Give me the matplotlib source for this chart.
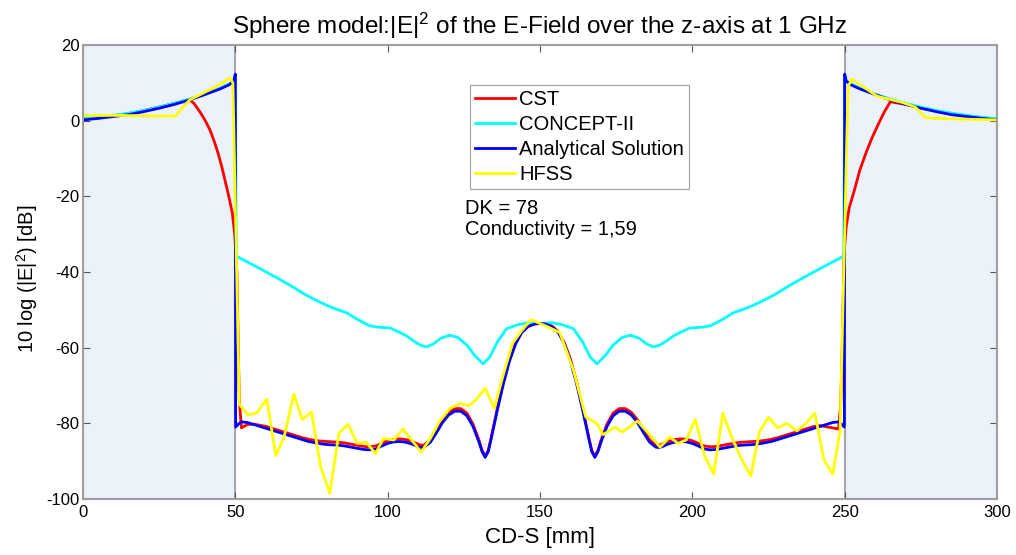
import numpy as np
import matplotlib
matplotlib.use("Agg")
import matplotlib.pyplot as plt

plt.rcParams['font.family'] = ['Liberation Sans', 'DejaVu Sans']
plt.rcParams['mathtext.default'] = 'regular'
plt.rcParams['axes.unicode_minus'] = False

# --- CST ---
cst_x = [0, 5, 10, 15, 20, 25, 30, 35, 36.5, 38.4, 40, 41.7, 43, 44.3, 45.5, 46.6, 47.8, 49, 49.8,
         50.5, 51.3, 52, 54, 56, 58, 60, 62, 64, 66, 68, 70, 72, 74, 76, 78, 80, 82, 84, 86, 88, 90,
         92, 94, 96, 98, 100, 102, 104, 106, 108, 110, 111, 112, 114, 116, 118, 120, 122, 124, 126,
         128, 130, 131, 132, 133, 134, 136, 138, 140, 142, 144, 146, 148, 150,
         152, 154, 156, 158, 160, 162, 164, 166, 167, 168, 169, 170, 172, 174, 176, 178, 180, 182,
         184, 186, 188, 189, 190, 192, 194, 196, 198, 200, 202, 204, 206, 208, 210, 212, 214, 216,
         218, 220, 222, 224, 226, 228, 230, 232, 234, 236, 238, 240, 242, 244, 246, 248, 248.7,
         249.2, 249.8, 250.5, 251.5, 253.4, 255, 257, 259, 261, 263, 265, 270, 275, 280, 285, 290,
         295, 300]
cst_y = [0.4, 0.8, 1.3, 1.9, 2.7, 3.6, 4.6, 5.6, 4.5, 2.3, 0.2, -2.5, -5.3, -8.5, -12.0, -15.7,
         -19.8, -24.4, -30.0,
         -40.0, -74.0, -81.2, -80.3, -80.2, -80.5, -80.8, -81.3, -81.8, -82.3, -82.8, -83.3, -83.8,
         -84.2, -84.5, -84.7, -84.8, -84.9, -85.0, -85.2, -85.5, -85.8, -86.1, -86.2, -86.0, -85.3,
         -84.6, -84.2, -84.1, -84.3, -84.8, -85.5, -85.8, -85.7, -84.4, -81.8, -79.1, -77.1, -76.1,
         -76.1, -77.3, -80.2, -84.5, -87.2, -88.6, -87.2, -83.6, -76.0, -69.0, -63.0, -58.7, -55.8,
         -54.3, -53.7, -53.6,
         -53.7, -54.3, -55.8, -58.7, -63.0, -69.0, -76.0, -83.6, -87.2, -88.6, -87.2, -84.5, -80.2,
         -77.3, -76.1, -76.1, -77.1, -79.1, -81.8, -84.4, -85.7, -85.8, -85.5, -84.8, -84.3, -84.1,
         -84.2, -84.6, -85.3, -86.0, -86.2, -86.1, -85.8, -85.5, -85.2, -85.0, -84.9, -84.8, -84.7,
         -84.5, -84.2, -83.8, -83.3, -82.8, -82.3, -81.8, -81.3, -80.8, -80.6, -80.9, -81.2, -81.5,
         -75.0, -60.0, -35.0, -28.0, -23.0, -17.8, -13.0, -8.5, -4.5, -1.0, 2.3, 5.0, 4.3, 3.4,
         2.6, 1.9, 1.3, 0.8, 0.4]

# --- CONCEPT-II ---
concept_x = [0, 5, 10, 15, 20, 25, 30, 35, 40, 45, 48, 49.5, 50, 50.3, 55, 59, 64, 69, 73, 77.8,
             82, 86.6, 90, 94, 97, 100.8, 103, 106, 108.5, 110.6, 112.8, 115, 117.5, 120.4, 123,
             126, 128.5, 131.3, 133.5, 136, 139, 142.4, 146, 150, 154, 157.6, 161, 164, 166.5,
             168.7, 171.5, 174, 177, 179.6, 182.5, 185, 187.2, 189.4, 191.5, 194, 197, 199.2, 203,
             206, 210, 213.4, 218, 222.2, 227, 231, 236, 241, 245, 249.7, 250, 250.5, 252, 255,
             260, 265, 270, 275, 280, 285, 290, 295, 300]
concept_y = [0.5, 0.9, 1.4, 2.0, 2.7, 3.6, 4.6, 5.7, 7.0, 8.6, 9.7, 10.6, 12.0, -35.8, -37.8,
             -39.5, -41.7, -44.0, -46.0, -48.0, -49.5, -50.8, -52.5, -54.2, -54.6, -54.8, -55.6,
             -56.8, -58.2, -59.3, -59.8, -59.0, -57.5, -56.7, -57.3, -59.3, -62.0, -64.3, -62.5,
             -58.5, -55.0, -54.0, -53.4, -53.6, -53.4, -54.0, -55.0, -58.5, -62.5, -64.3, -62.0,
             -59.3, -57.3, -56.7, -57.5, -59.0, -59.8, -59.3, -58.2, -56.8, -55.6, -54.8, -54.6,
             -54.2, -52.5, -50.8, -49.5, -48.0, -46.0, -44.0, -41.7, -39.5, -37.8, -35.8, 12.0,
             10.6, 9.7, 8.6, 7.0, 5.7, 4.6, 3.6, 2.7, 2.0, 1.4, 0.9, 0.5]

# --- Analytical solution ---
analytic_x = [0, 5, 10, 15, 20, 25, 30, 35, 40, 45, 48, 49.5, 50, 50.1, 51, 52, 54, 56, 58, 60,
              62, 64, 66, 68, 70, 72, 74, 76, 78, 80, 82, 84, 86, 88, 90, 92, 94, 96, 98, 100,
              102, 104, 106, 108, 110, 111, 112, 114, 116, 118, 120, 122, 124, 126, 128, 130, 131,
              132, 133, 134, 136, 138, 140, 142, 144, 146, 148, 150,
              152, 154, 156, 158, 160, 162, 164, 166, 167, 168, 169, 170, 172, 174, 176, 178, 180,
              182, 184, 186, 188, 189, 190, 192, 194, 196, 198, 200, 202, 204, 206, 208, 210, 212,
              214, 216, 218, 220, 222, 224, 226, 228, 230, 232, 234, 236, 238, 240, 242, 244, 246,
              248, 249, 249.9, 250, 250.5, 252, 255, 260, 265, 270, 275, 280, 285, 290, 295, 300]
analytic_y = [0.2, 0.6, 1.1, 1.6, 2.4, 3.3, 4.3, 5.5, 6.9, 8.4, 9.5, 10.5, 12.3, -81.0, -80.2,
              -79.6, -79.8, -80.3, -80.8, -81.3, -81.8, -82.3, -82.8, -83.3, -83.8, -84.3, -84.8,
              -85.1, -85.4, -85.6, -85.7, -85.8, -86.0, -86.3, -86.6, -86.9, -87.0, -86.8, -86.0,
              -85.3, -84.9, -84.8, -85.0, -85.5, -86.2, -86.4, -86.3, -85.0, -82.5, -79.8, -77.8,
              -76.8, -76.8, -78.0, -80.8, -85.0, -87.5, -89.0, -87.5, -84.0, -76.5, -69.5, -63.5,
              -59.0, -56.0, -54.5, -53.8, -53.6,
              -53.8, -54.5, -56.0, -59.0, -63.5, -69.5, -76.5, -84.0, -87.5, -89.0, -87.5, -85.0,
              -80.8, -78.0, -76.8, -76.8, -77.8, -79.8, -82.5, -85.0, -86.3, -86.4, -86.2, -85.5,
              -85.0, -84.8, -84.9, -85.3, -86.0, -86.8, -87.0, -86.9, -86.6, -86.3, -86.0, -85.8,
              -85.7, -85.6, -85.4, -85.1, -84.8, -84.3, -83.8, -83.3, -82.8, -82.3, -81.8, -81.3,
              -80.8, -80.3, -79.8, -79.6, -80.2, -81.0, 12.3, 10.5, 9.5, 8.4, 6.9, 5.5, 4.3, 3.3,
              2.4, 1.6, 1.1, 0.6, 0.2]

# --- HFSS ---
hfss_x = [0, 10, 20, 30.2, 35, 40, 45, 48.2, 49.2, 51.3, 54.2, 57, 60.3, 63.3, 66, 69.2, 72, 75,
          78, 81, 84, 87, 90, 93, 96, 98.6, 102, 105, 111, 114, 117, 120.5, 124, 126.5, 129, 132,
          135, 138, 141, 144, 147, 152, 156.5, 161, 165, 168.6, 170.7, 174.6, 177, 182, 186, 189.4,
          192.6, 195.3, 198, 201, 204, 207, 210, 213.3, 216.3, 219.2, 222, 225, 228, 231, 234.3,
          237.3, 240.2, 243.2, 246.1, 248.5, 251.1, 252.4, 256, 260.6, 265, 269, 273.2, 276.5,
          280, 290, 300]
hfss_y = [1.4, 1.4, 1.3, 1.2, 5.5, 7.5, 9.6, 11.3, 10.0, -75.0, -77.8, -77.3, -73.6, -88.5, -83.6,
          -72.3, -79.0, -77.0, -91.5, -98.5, -82.6, -80.3, -85.3, -85.0, -88.0, -84.0, -84.4,
          -81.5, -87.6, -84.0, -79.5, -76.0, -74.7, -75.4, -73.8, -70.7, -76.0, -67.0, -58.8,
          -55.5, -52.6, -54.3, -56.0, -66.0, -78.3, -80.0, -83.0, -81.0, -82.3, -79.4, -83.0,
          -86.3, -83.6, -85.3, -84.4, -78.9, -88.6, -93.4, -77.3, -84.4, -89.7, -93.9, -82.3,
          -78.4, -81.2, -80.0, -82.0, -80.0, -77.3, -89.7, -93.4, -81.8, 9.0, 11.0, 9.0, 6.5,
          5.6, 4.8, 3.6, 0.8, 0.6, 0.4, 0.2]

series = [
    ('CST', cst_x, cst_y, '#ff0000'),
    ('CONCEPT-II', concept_x, concept_y, '#00ffff'),
    ('Analytical Solution', analytic_x, analytic_y, '#0000ff'),
    ('HFSS', hfss_x, hfss_y, '#ffff00'),
]

fig = plt.figure(figsize=(10.16, 5.55), dpi=100)
ax = fig.add_axes([0.0817, 0.1009, 0.8996, 0.818])

# shaded regions outside the sphere
for x0, x1 in [(0, 50), (250, 300)]:
    ax.axvspan(x0, x1, facecolor='#ebf2f9', edgecolor='#a8a8a8', lw=1.5, zorder=0)

for name, xs, ys, col in series:
    ax.plot(xs, ys, color=col, lw=2.0, label=name)

ax.set_xlim(0, 300)
ax.set_ylim(-100, 20)
ax.set_xticks(np.arange(0, 301, 50))
ax.set_yticks(np.arange(-100, 21, 20))
ax.tick_params(direction='in', top=True, right=True, length=5, width=0.8,
               color='#555555', labelsize=12)
ax.tick_params(axis='x', pad=4)
ax.tick_params(axis='y', pad=2.5)
for sp in ax.spines.values():
    sp.set_color('#a0a0a0')
    sp.set_linewidth(1.5)

ax.set_title('Sphere model:|E|$^2$ of the E-Field over the z-axis at 1 GHz', fontsize=17.5, pad=8)
ax.set_xlabel('CD-S [mm]', fontsize=16, labelpad=5)
ax.set_ylabel('10 log (|E|$^2$) [dB]', fontsize=14.5,
              rotation_mode='default', ha='center', va='center')
ax.yaxis.set_label_coords(-0.0607, 0.484)

leg = ax.legend(loc='upper left', bbox_to_anchor=(0.4234, 0.912), borderaxespad=0,
                fontsize=14.5, handlelength=2.0, handletextpad=0.2, labelspacing=0.3,
                fancybox=False, framealpha=1, edgecolor='#a0a0a0', borderpad=0.25)
leg.get_frame().set_linewidth(0.8)

ax.text(125.4, -23.2, 'DK = 78', fontsize=14.5, va='center')
ax.text(125.4, -28.8, 'Conductivity = 1,59', fontsize=14.5, va='center')

fig.savefig('out.png', dpi=100)
